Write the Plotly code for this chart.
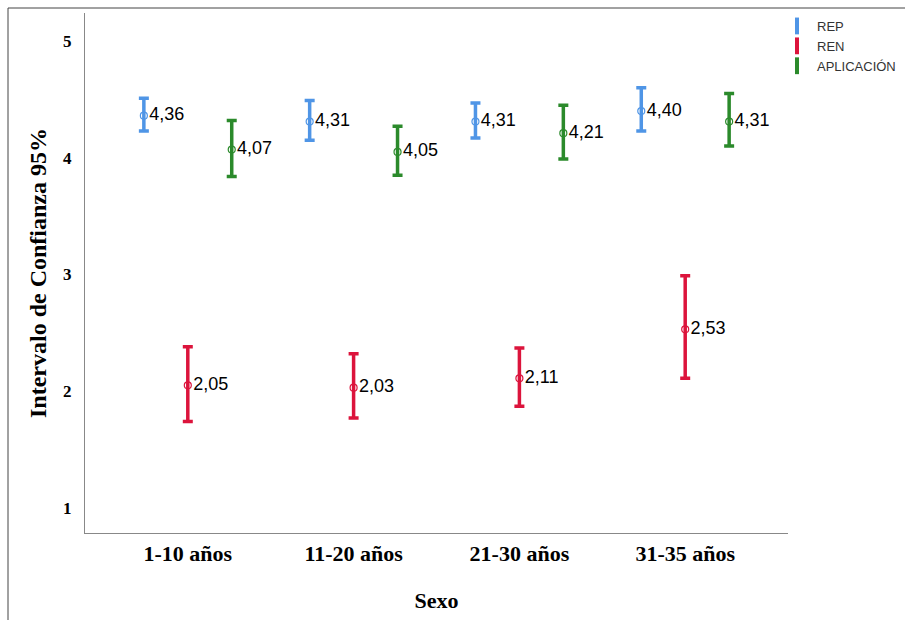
import plotly.graph_objects as go

categories = ["1-10 años", "11-20 años", "21-30 años", "31-35 años"]
rep_mean = [4.36, 4.31, 4.31, 4.40]
rep_err_plus = [0.15, 0.18, 0.16, 0.20]
rep_err_minus = [0.13, 0.16, 0.14, 0.17]
ren_mean = [2.05, 2.03, 2.11, 2.53]
ren_err_plus = [0.33, 0.29, 0.26, 0.46]
ren_err_minus = [0.31, 0.26, 0.24, 0.42]
apl_mean = [4.07, 4.05, 4.21, 4.31]
apl_err_plus = [0.25, 0.22, 0.24, 0.24]
apl_err_minus = [0.23, 0.20, 0.22, 0.21]
series_names = ["REP", "REN", "APLICACIÓN"]
colors = ["#4f95e6", "#dc143c", "#2b8a2b"]

fig = go.Figure()
series = [(rep_mean, rep_err_plus, rep_err_minus),
          (ren_mean, ren_err_plus, ren_err_minus),
          (apl_mean, apl_err_plus, apl_err_minus)]

for name, color, (m, ep, em) in zip(series_names, colors, series):
    fig.add_trace(go.Scatter(
        x=categories, y=m, name=name, mode="markers+text",
        offsetgroup=name,
        text=[f"{v:.2f}".replace(".", ",") for v in m],
        textposition="middle right",
        textfont=dict(family="Arial, Liberation Sans", size=18, color="#000"),
        marker=dict(symbol="circle-open", size=7, color=color, line=dict(width=1.2)),
        error_y=dict(type="data", symmetric=False, array=ep, arrayminus=em,
                     color=color, thickness=3.5, width=5),
        showlegend=False,
        cliponaxis=False,
    ))
    fig.add_trace(go.Scatter(
        x=[None], y=[None], name=name, mode="markers",
        marker=dict(symbol="line-ns-open", size=12, color=color, line=dict(width=4, color=color)),
        showlegend=True,
    ))

fig.update_layout(
    width=905, height=620,
    margin=dict(l=85, r=117, t=13, b=87, autoexpand=False),
    paper_bgcolor="white", plot_bgcolor="white",
    scattermode="group", scattergap=0.205,
    legend=dict(x=777 / 905, xanchor="left", y=1 - 11 / 620, yanchor="top",
                xref="container", yref="container",
                font=dict(family="Arial, Liberation Sans", size=13, color="#333"),
                itemwidth=30, tracegroupgap=0, bgcolor="rgba(0,0,0,0)"),
    xaxis=dict(
        type="category", range=[-0.62, 3.62], automargin=False,
        showline=True, linecolor="#888", linewidth=1.2, showgrid=False, ticks="",
        tickfont=dict(family="Liberation Serif, Times New Roman", size=22, color="#000", weight="bold"),
        title=dict(text="<b>Sexo</b>", font=dict(family="Liberation Serif, Times New Roman", size=22, color="#000"), standoff=28),
    ),
    yaxis=dict(
        range=[0.785, 5.24], tickvals=[1, 2, 3, 4, 5], automargin=False,
        showline=True, linecolor="#888", linewidth=1.2, showgrid=False, ticks="", zeroline=False,
        tickfont=dict(family="Liberation Serif, Times New Roman", size=17, color="#000", weight="bold"),
        ticklabelstandoff=9,
        title=dict(text="<b>Intervalo de Confianza 95%</b>", font=dict(family="Liberation Serif, Times New Roman", size=24, color="#000"), standoff=9),
    ),
    shapes=[
        dict(type="line", xref="paper", yref="paper", x0=(8 - 85) / 703, x1=(8 - 85) / 703,
             y0=(533 - 8) / 520, y1=(533 - 625) / 520, line=dict(color="#444", width=1)),
        dict(type="line", xref="paper", yref="paper", x0=(8 - 85) / 703, x1=(910 - 85) / 703,
             y0=(533 - 8) / 520, y1=(533 - 8) / 520, line=dict(color="#444", width=1)),
    ],
)

fig.write_html("out.html", config={"displayModeBar": False},
               post_script="document.body.style.margin='0';document.body.style.overflow='hidden';")
